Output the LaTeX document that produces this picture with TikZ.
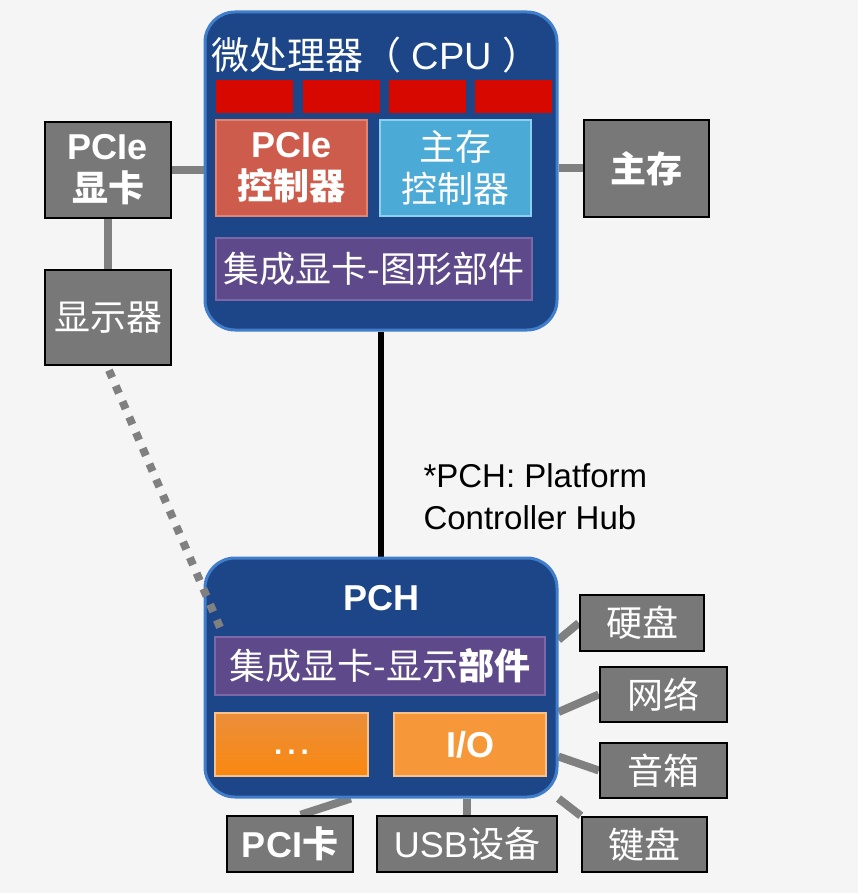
\documentclass[tikz,border=0pt]{standalone}
\usepackage{fontspec}
\setmainfont{Liberation Sans}
\newfontfamily\cjk{Noto Sans CJK SC}
\usetikzlibrary{calc}

\definecolor{bggray}{RGB}{245,245,245}
\definecolor{chipblue}{RGB}{28,70,136}
\definecolor{chipedge}{RGB}{64,126,204}
\definecolor{corered}{RGB}{214,8,0}
\definecolor{pcired}{RGB}{206,92,76}
\definecolor{pciedge}{RGB}{226,132,112}
\definecolor{memblue}{RGB}{76,170,214}
\definecolor{memedge}{RGB}{140,208,238}
\definecolor{gfxpurple}{RGB}{94,74,138}
\definecolor{gfxedge}{RGB}{124,104,168}
\definecolor{ioorange}{RGB}{246,152,58}
\definecolor{moretop}{RGB}{234,142,58}
\definecolor{moremid}{RGB}{212,112,26}
\definecolor{morebot}{RGB}{250,136,16}
\definecolor{devgray}{RGB}{120,120,120}
\definecolor{wiregray}{RGB}{128,128,128}

\newcommand\bigtxt{\fontsize{36}{42}\selectfont}
\newcommand\titletxt{\fontsize{38}{44}\selectfont}
\newcommand\notetxt{\fontsize{33}{42}\selectfont}

\pgfdeclarelayer{back}
\pgfdeclarelayer{wires}
\pgfsetlayers{back,wires,main}

\tikzset{
  chip/.style={fill=chipblue, draw=chipedge, line width=3pt, rounded corners=30pt},
  core/.style={fill=corered, minimum width=77pt, minimum height=33pt, inner sep=0pt},
  part/.style={text=white, font=\bigtxt, align=center, inner sep=2pt, line width=1.5pt},
  devbox/.style={draw=black, line width=2.5pt, fill=devgray, text=white, font=\bigtxt,
    align=center, inner sep=2pt},
  wire/.style={draw=wiregray, line width=8pt}
}

\begin{document}
\begin{tikzpicture}[x=1pt,y=-1pt]
\begin{pgfonlayer}{back}
  \fill[bggray] (0,0) rectangle (858,893);
\end{pgfonlayer}
\useasboundingbox (0,0) rectangle (858,893);

% CPU
\node[chip, minimum width=352pt, minimum height=318pt] (cpu) at (381,171) {};
\node[text=white, font=\titletxt] (cputitle) at (376,55) {{\cjk 微处理器（}\kern10pt CPU\kern10pt{\cjk ）}};
\foreach \x/\n in {254/1,341/2,427/3,513/4}
  \node[core] (core\n) at (\x,96.5) {};
\node[part, fill=pcired, draw=pciedge, minimum width=151pt, minimum height=96pt] (pcictl) at (291.5,168)
  {\bfseries PCIe\\{\cjk\bfseries 控制器}};
\node[part, fill=memblue, draw=memedge, minimum width=151pt, minimum height=96pt] (memctl) at (455.5,168)
  {{\cjk 主存}\\{\cjk 控制器}};
\node[part, fill=gfxpurple, draw=gfxedge, minimum width=316pt, minimum height=62pt] (gfx) at (374,269)
  {{\cjk 集成显卡-图形部件}};

% left and right of the CPU
\node[devbox, minimum width=126pt, minimum height=96pt] (pciecard) at (108,170)
  {\bfseries PCIe\\{\cjk\bfseries 显卡}};
\node[devbox, minimum width=126pt, minimum height=95pt] (display) at (108,317.5) {{\cjk 显示器}};
\node[devbox, minimum width=125pt, minimum height=97pt] (mem) at (646.5,168.5) {{\cjk\bfseries 主存}};

% PCH
\node[chip, minimum width=352pt, minimum height=239pt] (pch) at (381,677.5) {};
\node[text=white, font=\bigtxt\bfseries] (pchtitle) at (381,598) {PCH};
\node[part, fill=gfxpurple, draw=gfxedge, minimum width=330pt, minimum height=58pt] (disp) at (380,666)
  {{\cjk 集成显卡-显示\bfseries 部件}};
\node[part, top color=moretop, middle color=moremid, bottom color=morebot, draw=ioorange!60!white,
  minimum width=153pt, minimum height=63pt, font=\fontsize{30}{36}\selectfont\bfseries] (more) at (291.5,744.5)
  {\vphantom{I}.\kern5pt.\kern5pt.};
\node[part, fill=ioorange, draw=ioorange!60!white, minimum width=152pt, minimum height=63pt] (io) at (470,744.5)
  {\bfseries I/O};

\node[font=\notetxt, align=left, anchor=west] (note) at (420,497) {*PCH: Platform\\Controller Hub};

% devices
\node[devbox, minimum width=124pt, minimum height=56pt] (disk) at (642,623) {{\cjk 硬盘}};
\node[devbox, minimum width=127pt, minimum height=55pt] (net) at (663.5,694.5) {{\cjk 网络}};
\node[devbox, minimum width=127pt, minimum height=55pt] (sound) at (663.5,770.5) {{\cjk 音箱}};
\node[devbox, minimum width=125pt, minimum height=55pt] (keys) at (644.5,844.5) {{\cjk 键盘}};
\node[devbox, minimum width=126pt, minimum height=56pt] (pcicard) at (290,844) {\bfseries PCI{\cjk\bfseries 卡}};
\node[devbox, minimum width=180pt, minimum height=56pt] (usb) at (467,844) {USB{\cjk 设备}};

% connectors
\begin{pgfonlayer}{wires}
  \draw[wire] (pciecard.east) -- (pciecard.east -| cpu.west);
  \draw[wire] (pciecard.south) -- (display.north);
  \draw[wire] (mem.west) -- (mem.west -| cpu.east);
  \draw[black, line width=6pt] (cpu.south) -- (pch.north);
  \draw[wire] (disk.west) -- (pch.12);
  \draw[wire] (net.west) -- (pch.-11);
  \draw[wire] (sound.west) -- (pch.-24);
  \draw[wire] (keys.north west) -- (pch.south east);
  \draw[wire] (pcicard.70) -- (pch.-104);
  \draw[wire] (usb.north) -- (usb.north |- pch.south);
\end{pgfonlayer}
\coordinate (dotend) at (222,632);
\draw[wiregray, line width=8pt, dash pattern=on 8pt off 9pt] ($(display.south)+(1,4)$) -- (dotend);
\end{tikzpicture}
\end{document}
